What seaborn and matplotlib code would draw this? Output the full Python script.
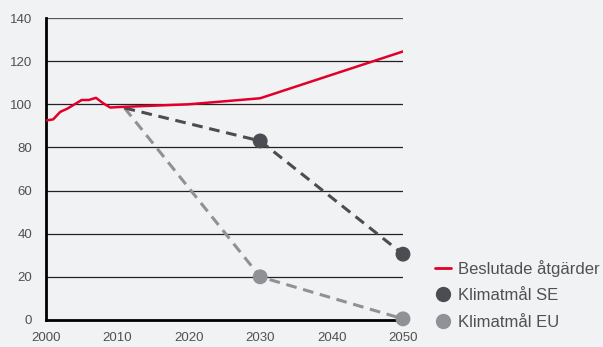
"""Utsläppsscenarier: beslutade åtgärder mot klimatmål SE och EU."""

import matplotlib
matplotlib.use("Agg")
import matplotlib.pyplot as plt
from matplotlib.lines import Line2D
import pandas as pd
import seaborn as sns

# Data (index, 2000-ish = ~100)
beslutade_years = [2000, 2001, 2002, 2003, 2004, 2005, 2006, 2007, 2008, 2009,
                   2010, 2020, 2030, 2050]
beslutade_vals = [92.5, 93.0, 96.5, 98.0, 100.0, 102.0, 102.0, 103.0, 100.5, 98.5,
                  98.7, 100.0, 102.8, 124.5]

se_years = [2011, 2030, 2050]
se_vals = [98.3, 83.0, 30.5]

eu_years = [2011, 2030, 2050]
eu_vals = [98.3, 20.0, 0.5]

marker_years = [2030, 2050]
y_ticks = [0, 20, 40, 60, 80, 100, 120, 140]
x_ticks = [2000, 2010, 2020, 2030, 2040, 2050]

RED = "#e2002a"
DARK = "#4b4d52"
LIGHT = "#909196"
BG = "#f1f2f4"
TXT = "#505050"


def main():
    sns.set_style("white")
    plt.rcParams["font.family"] = ["Liberation Sans", "DejaVu Sans"]

    fig = plt.figure(figsize=(6.03, 3.47), dpi=100, facecolor=BG)
    ax = fig.add_axes([0.0763, 0.078, 0.592, 0.87])
    ax.set_facecolor(BG)

    beslutade = pd.DataFrame({"year": beslutade_years, "value": beslutade_vals})
    se = pd.DataFrame({"year": se_years, "value": se_vals})
    eu = pd.DataFrame({"year": eu_years, "value": eu_vals})

    # horizontal grid lines
    for t in y_ticks[1:]:
        ax.axhline(t, color="#222222" if t < 140 else "#555555", lw=0.9, zorder=1)

    sns.lineplot(data=eu, x="year", y="value", ax=ax, color=LIGHT, lw=2.2,
                 linestyle=(0, (3.5, 2.2)), zorder=3)
    sns.lineplot(data=se, x="year", y="value", ax=ax, color=DARK, lw=2.2,
                 linestyle=(0, (3.5, 2.2)), zorder=3)
    sns.lineplot(data=beslutade, x="year", y="value", ax=ax, color=RED, lw=1.8,
                 zorder=4)

    se_m = se[se["year"].isin(marker_years)]
    eu_m = eu[eu["year"].isin(marker_years)]
    sns.scatterplot(data=se_m, x="year", y="value", ax=ax, color=DARK, s=115,
                    edgecolor="none", zorder=5, clip_on=False)
    sns.scatterplot(data=eu_m, x="year", y="value", ax=ax, color=LIGHT, s=115,
                    edgecolor="none", zorder=5, clip_on=False)

    ax.set_xlim(2000, 2050)
    ax.set_ylim(0, 140)
    ax.set_xticks(x_ticks)
    ax.set_yticks(y_ticks)
    ax.set_xlabel("")
    ax.set_ylabel("")
    ax.tick_params(axis="both", length=0, labelsize=9.5, colors=TXT)
    ax.tick_params(axis="x", pad=9)
    ax.tick_params(axis="y", pad=10)

    for side in ["top", "right"]:
        ax.spines[side].set_visible(False)
    for side in ["left", "bottom"]:
        ax.spines[side].set_color("black")
        ax.spines[side].set_linewidth(2)
        ax.spines[side].set_zorder(2)

    handles = [
        Line2D([], [], color=RED, lw=2),
        Line2D([], [], color=DARK, marker="o", ls="none", markersize=10),
        Line2D([], [], color=LIGHT, marker="o", ls="none", markersize=10),
    ]
    labels = ["Beslutade åtgärder", "Klimatmål SE", "Klimatmål EU"]
    leg = fig.legend(handles, labels, loc="upper left",
                     bbox_to_anchor=(0.722, 0.252), frameon=False, fontsize=12,
                     handlelength=0.95, handletextpad=0.4, labelspacing=0.7,
                     borderaxespad=0, borderpad=0)
    for t in leg.get_texts():
        t.set_color(TXT)

    fig.savefig("out.png", dpi=100, facecolor=BG)


if __name__ == "__main__":
    main()
